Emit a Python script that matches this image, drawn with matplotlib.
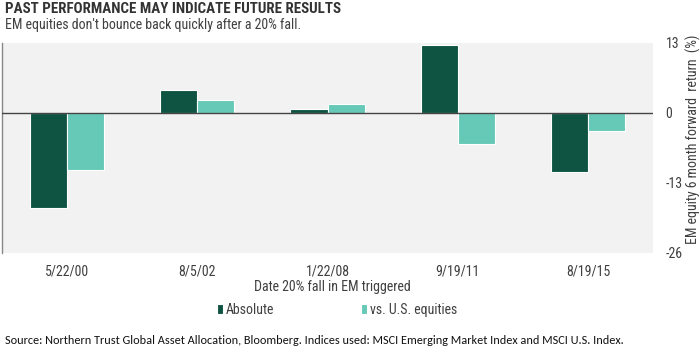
import matplotlib
matplotlib.use("Agg")
import matplotlib.pyplot as plt
import numpy as np

dates = ["5/22/00", "8/5/02", "1/22/08", "9/19/11", "8/19/15"]
absolute = [-17.6, 4.3, 0.8, 12.6, -10.9]
vs_us = [-10.5, 2.4, 1.7, -5.7, -3.3]
yticks = [13, 0, -13, -26]

dark = "#0f5443"
teal = "#66c8b6"
txt = "#404040"
narrow = ["Roboto Condensed", "DejaVu Sans"]
source_font = ["Carlito", "DejaVu Sans"]

fig = plt.figure(figsize=(7, 3.49), dpi=100)
ax = fig.add_axes([2 / 700, 1 - 253 / 349, 651 / 700, 210 / 349])
ax.set_facecolor("#f2f2f2")

x = np.arange(len(dates))
w = 0.285
ax.bar(x - w / 2, absolute, w, color=dark, edgecolor="white", linewidth=0.8, label="Absolute", zorder=2)
ax.bar(x + w / 2, vs_us, w, color=teal, edgecolor="white", linewidth=0.8, label="vs. U.S. equities", zorder=2)
ax.axhline(0, color="#444444", linewidth=1.0, zorder=3)

ax.set_xlim(-0.5, len(dates) - 0.5)
ax.set_ylim(-26, 13)
ax.set_xticks(x)
ax.set_xticklabels(dates, fontfamily=narrow, fontsize=10, color=txt)
ax.yaxis.tick_right()
ax.set_yticks(yticks)
ax.set_yticklabels([str(t) for t in yticks], fontfamily=narrow, fontsize=10, color=txt)
ax.tick_params(axis="x", length=0, pad=8)
ax.tick_params(axis="y", length=0, pad=9)
for s in ["top", "right", "bottom"]:
    ax.spines[s].set_visible(False)
ax.spines["left"].set_color("#888888")
ax.spines["left"].set_linewidth(1.0)

fig.text(693 / 700, 1 - 139 / 349, "EM equity 6 month forward  return  (%)", rotation=90,
         ha="center", va="center", fontfamily=narrow, fontsize=10, color=txt)
fig.text(332 / 700, 1 - 287 / 349, "Date 20% fall in EM triggered", ha="center", va="center",
         fontfamily=narrow, fontsize=10, color=txt)

handles, labels = ax.get_legend_handles_labels()
fig.legend(handles, labels, loc="center", bbox_to_anchor=(337 / 700, 1 - 310 / 349), ncol=2,
           frameon=False, handlelength=0.4, handleheight=0.75, handletextpad=0.2,
           columnspacing=6.3, prop={"family": narrow, "size": 10}, labelcolor=txt)

fig.text(5 / 700, 1 - 9 / 349, "PAST PERFORMANCE MAY INDICATE FUTURE RESULTS", ha="left", va="center",
         fontfamily=narrow, fontsize=10.8, fontweight="bold", color="#333333")
fig.text(5 / 700, 1 - 25 / 349, "EM equities don't bounce back quickly after a 20% fall.", ha="left",
         va="center", fontfamily=narrow, fontsize=10, color=txt)
fig.text(5 / 700, 1 - 340 / 349,
         "Source: Northern Trust Global Asset Allocation, Bloomberg. Indices used: MSCI Emerging Market Index and MSCI U.S. Index.",
         ha="left", va="center", fontfamily=source_font, fontsize=8.8, color="#111111")

fig.savefig("out.png", dpi=100)
